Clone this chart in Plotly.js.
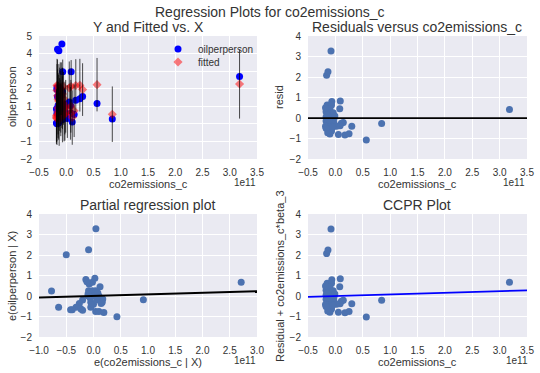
<!DOCTYPE html>
<html>
<head>
<meta charset="utf-8">
<script src="https://cdn.plot.ly/plotly-3.0.1.min.js"></script>
<style>html,body{margin:0;padding:0;background:#fff;}#chart{width:540px;height:373px;}</style>
</head>
<body>
<div id="chart"></div>
<script>
// ---- Data (co2emissions_c in units of 1e11) ----
// top row: observations
const co2_e11 = [-0.15,-0.065,-0.07,-0.10,-0.17,-0.12,-0.04,-0.17,-0.10,-0.025,
                 -0.17,-0.12,-0.07,-0.15,-0.09,-0.025,-0.14,-0.07,-0.10,0.09,
                 0.08,0.11,0.145,0.085,0.30,0.055,0.175,0.25,0.565,0.845,
                 -0.08,-0.16,-0.135,3.18,-0.18,-0.18,-0.14,-0.01,0.02,-0.13,
                 -0.16,-0.11,-0.05,-0.15,-0.17];
const oilperperson = [1.53,2.96,1.83,1.95,0.60,1.93,0.76,1.95,0.82,0.52,
                      2.05,0.87,0.25,1.04,1.61,0.64,0.05,1.07,0.22,2.96,
                      1.05,0.10,0.53,0.62,1.55,1.25,1.35,1.43,1.16,0.28,
                      4.54,4.24,4.16,2.69,0.85,0.05,0.58,1.10,0.30,0.35,
                      1.55,1.90,1.00,0.85,0.00];
const resid = [0.63,0.80,0.63,0.45,0.30,0.23,0.26,0.05,0.02,-0.03,
               -0.15,-0.23,-0.20,-0.36,-0.39,-0.26,-0.55,-0.63,-0.78,0.83,
               0.45,-0.26,-0.22,-0.38,-0.40,-0.80,-0.83,-0.77,-1.07,-0.27,
               3.27,2.08,2.26,0.42,0.50,-0.40,-0.72,0.10,-0.40,0.10,
               -0.05,-0.10,-0.45,0.15,-0.50];
const predHalfWidth = [1.5,1.5,1.5,1.5,1.5,1.5,1.5,1.5,1.5,1.5,
                       1.5,1.5,1.5,1.5,1.5,1.5,1.5,1.5,1.5,1.5,
                       1.5,1.55,1.5,1.5,1.5,1.5,1.5,1.5,1.52,1.58,
                       1.5,1.5,1.5,1.97,1.5,1.5,1.5,1.5,1.5,1.5,
                       1.5,1.5,1.5,1.5,1.5];
// partial regression residuals
const e_co2_e11 = [0.044,-0.09,-0.50,-0.77,-0.64,0.915,0.43,2.71,
                   -0.14,0.025,-0.08,-0.02,0.12,-0.09,-0.02,0.04,-0.10,-0.04,0.02,0.10,
                   0.17,0.14,-0.20,-0.26,-0.05,0.00,-0.32,-0.23,-0.39,-0.42,
                   -0.20,-0.05,0.04,0.10,0.19,-0.02,-0.10,0.06,-0.06,0.08,0.16,-0.12];
const e_oil = [3.28,2.26,2.01,0.24,-0.55,-0.18,-1.01,0.67,
               0.81,0.86,0.59,0.67,0.45,0.26,0.26,0.26,0.00,0.00,0.00,0.00,
               -0.15,-0.36,-0.20,-0.36,-0.30,-0.40,-0.55,-0.63,-0.67,-0.67,
               -0.70,-0.55,-0.75,-0.75,-0.80,-0.39,0.10,-0.20,-0.10,0.15,-0.30,0.70];
const beta_3 = 0.08;          // per 1e11
const beta_partial = 0.077;   // per 1e11

// derived series
const fitted = oilperperson.map((v,i)=>v - resid[i]);
const ccpr = resid.map((r,i)=>r + beta_3*co2_e11[i]);

// ---- layout helpers ----
const W=540,H=373;
const px=x=>x/W, py=y=>1-y/H;
const colX = [[39,257],[308,527]];
const rowY = [[36,159],[214,337]];
const textColor='#333333';
const fontFam='"Liberation Sans", Arial, sans-serif';

const deep='#4C72B0';
const traces=[
  {x:co2_e11,y:oilperperson,type:'scatter',mode:'markers',name:'oilperperson',legend:'legend',
   marker:{color:'#0000ff',size:7},xaxis:'x',yaxis:'y'},
  {x:co2_e11,y:fitted,type:'scatter',mode:'markers',name:'fitted',legend:'legend2',
   marker:{color:'rgba(255,0,0,0.5)',size:7,symbol:'diamond'},xaxis:'x',yaxis:'y'},
  {x:co2_e11,y:fitted,type:'scatter',mode:'markers',showlegend:false,hoverinfo:'skip',
   marker:{size:1,color:'rgba(0,0,0,0)'},
   error_y:{type:'data',array:predHalfWidth,visible:true,color:'rgba(0,0,0,0.7)',thickness:1,width:0},
   xaxis:'x',yaxis:'y'},
  {x:co2_e11,y:resid,type:'scatter',mode:'markers',showlegend:false,
   marker:{color:deep,size:7},xaxis:'x2',yaxis:'y2'},
  {x:e_co2_e11,y:e_oil,type:'scatter',mode:'markers',showlegend:false,
   marker:{color:deep,size:7},xaxis:'x3',yaxis:'y3'},
  {x:[-1,3],y:[-1*beta_partial,3*beta_partial],type:'scatter',mode:'lines',showlegend:false,
   line:{color:'#000',width:2},xaxis:'x3',yaxis:'y3'},
  {x:co2_e11,y:ccpr,type:'scatter',mode:'markers',showlegend:false,
   marker:{color:deep,size:7},xaxis:'x4',yaxis:'y4'},
  {x:[-0.5,3.5],y:[-0.5*beta_3,3.5*beta_3],type:'scatter',mode:'lines',showlegend:false,
   line:{color:'#0000ff',width:1.75},xaxis:'x4',yaxis:'y4'}
];

function xax(col,row,range,anchor){
  return {domain:[px(colX[col][0]),px(colX[col][1])],range:range,anchor:anchor,
    dtick:0.5,tick0:0,tickformat:'.1f',showgrid:true,gridcolor:'#ffffff',gridwidth:1,
    zeroline:false,showline:false,ticks:'outside',ticklen:4,tickcolor:'rgba(0,0,0,0)',
    tickfont:{size:10,color:textColor,family:fontFam},fixedrange:true};
}
function yax(col,row,range,anchor){
  return {domain:[py(rowY[row][1]),py(rowY[row][0])],range:range,anchor:anchor,
    dtick:1,tick0:0,showgrid:true,gridcolor:'#ffffff',gridwidth:1,
    zeroline:false,showline:false,ticks:'outside',ticklen:4,tickcolor:'rgba(0,0,0,0)',
    tickfont:{size:10,color:textColor,family:fontFam},fixedrange:true};
}

const ann=[];
function A(text,x,y,size,opts){
  ann.push(Object.assign({text:text,x:px(x),y:py(y),xref:'paper',yref:'paper',showarrow:false,
    xanchor:'center',yanchor:'middle',font:{size:size,color:textColor,family:fontFam}},opts||{}));
}
A('Regression Plots for co2emissions_c',270,12,14);
A('Y and Fitted vs. X',148,27,14);
A('Residuals versus co2emissions_c',417,27,14);
A('Partial regression plot',148,205,14);
A('CCPR Plot',417,205,14);
A('co2emissions_c',148,184,11);
A('co2emissions_c',417,184,11);
A('e(co2emissions_c | X)',148,362,11);
A('co2emissions_c',417,362,11);
A('oilperperson',12,97,11,{textangle:-90});
A('resid',279,97,11,{textangle:-90});
A('e(oilperperson | X)',12,276,11,{textangle:-90});
A('Residual + co2emissions_c*beta_3',280,276,11,{textangle:-90});
A('1e11',245,182,10);
A('1e11',514,182,10);
A('1e11',245,360,10);
A('1e11',517,360,10);

const shapes=[
  {type:'line',xref:'x2 domain',yref:'y2',x0:0,x1:1,y0:0,y1:0,line:{color:'#000',width:1.75}}
];

const legStyle=(yc)=>({x:px(158),y:py(yc),xanchor:'left',yanchor:'middle',bgcolor:'rgba(0,0,0,0)',
    font:{size:10,color:textColor,family:fontFam},itemwidth:30});
const layout={
  width:W,height:H,margin:{l:0,r:0,t:0,b:0},
  paper_bgcolor:'#ffffff',plot_bgcolor:'#EAEAF2',
  font:{family:fontFam,color:textColor},
  showlegend:true,
  legend:legStyle(49),
  legend2:legStyle(62),
  xaxis:xax(0,0,[-0.5,3.5],'y'),
  yaxis:yax(0,0,[-2,5],'x'),
  xaxis2:xax(1,0,[-0.5,3.5],'y2'),
  yaxis2:yax(1,0,[-2,4],'x2'),
  xaxis3:xax(0,1,[-1,3],'y3'),
  yaxis3:yax(0,1,[-2,4],'x3'),
  xaxis4:xax(1,1,[-0.5,3.5],'y4'),
  yaxis4:yax(1,1,[-2,4],'x4'),
  annotations:ann,shapes:shapes
};
Plotly.newPlot('chart',traces,layout,{staticPlot:true,displayModeBar:false});
</script>
</body>
</html>
